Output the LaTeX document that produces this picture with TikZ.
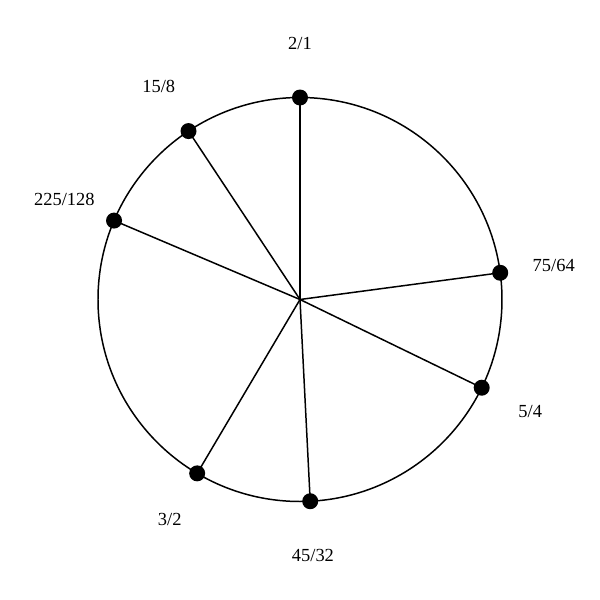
\documentclass[tikz,border=0pt]{standalone}
\usepackage{fontspec}
\setmainfont{Liberation Serif}
\usetikzlibrary{calc}

\tikzset{
	dot/.style={circle,fill=black,inner sep=0pt,minimum size=0.32cm},
	ratio/.style={font=\fontsize{10.5}{12}\selectfont},
}

\begin{document}
\begin{tikzpicture}[line width=0.85pt]
\useasboundingbox (-6,-6.01) rectangle (6,5.99);
	\coordinate (O) at (0,0);
	\draw (O) circle (4.04);
	% angle = 90 - 360*log2(ratio)
	\foreach \name/\ang/\lab in {a/90/{2/1},b/7.6/{75/64},c/-25.9/{5/4},d/-87.1/{45/32},e/-120.6/{3/2},f/157.0/{225/128},g/123.5/{15/8}}{
		\coordinate (\name) at (\ang:4.04);
		\draw (O)--(\name);
		\node[dot] (\name dot) at (\name) {};
		\node[ratio] (\name lab) at (\ang:5.12) {\lab};
	}
\end{tikzpicture}
\end{document}
